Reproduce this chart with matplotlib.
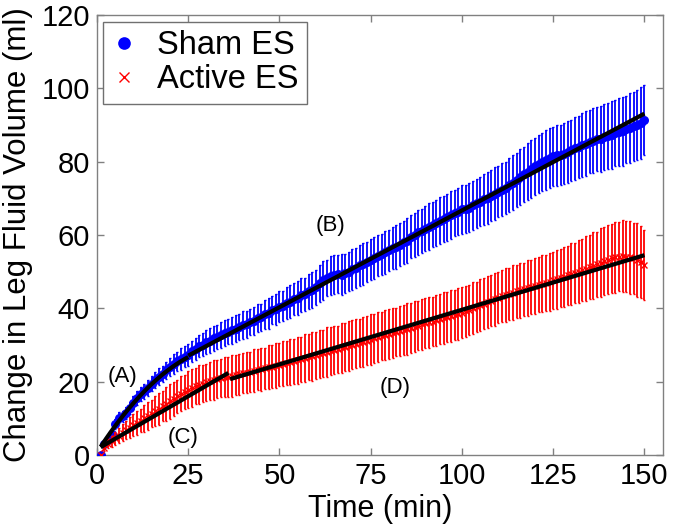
import numpy as np
import matplotlib
matplotlib.use('Agg')
import matplotlib.pyplot as plt

plt.rcParams['font.family'] = ['Liberation Sans', 'DejaVu Sans']

# =============================================================================
# Dados (leitura do grafico, 1 ponto por minuto)
# =============================================================================
minutes = np.arange(1, 151)

sham_mean = [0.0, 3.0, 4.2, 5.6, 8.5, 10.2, 10.6, 11.5, 12.8, 14.3,
             15.6, 16.6, 17.4, 18.3, 19.5, 20.4, 21.3, 22.2, 23.1, 24.0,
             24.8, 25.6, 26.2, 26.8, 27.2, 28.3, 28.9, 29.6, 30.1, 30.8,
             31.2, 31.8, 32.2, 32.8, 33.2, 33.6, 34.0, 34.4, 35.0, 35.4,
             35.7, 36.3, 36.6, 37.4, 37.6, 38.4, 38.6, 39.5, 39.7, 40.5,
             40.7, 41.5, 41.8, 42.6, 42.9, 43.6, 43.9, 44.6, 45.1, 45.7,
             46.8, 47.6, 48.3, 48.9, 49.2, 49.4, 49.2, 49.6, 50.0, 50.6,
             51.0, 51.7, 52.0, 52.6, 53.2, 53.7, 54.3, 54.7, 55.3, 55.8,
             56.4, 56.8, 57.4, 58.0, 58.5, 59.5, 60.0, 60.7, 61.2, 61.7,
             62.3, 62.8, 63.3, 63.9, 64.4, 64.8, 65.4, 65.9, 66.4, 67.0,
             67.1, 67.5, 68.1, 68.6, 69.1, 69.7, 70.2, 70.7, 71.3, 71.8,
             72.4, 72.9, 73.6, 74.3, 75.1, 75.8, 76.6, 77.3, 78.0, 78.7,
             79.4, 79.9, 80.5, 81.1, 81.5, 81.8, 81.8, 82.2, 82.6, 83.1,
             83.6, 84.0, 84.5, 84.9, 85.4, 85.7, 86.1, 86.3, 86.7, 87.0,
             87.3, 87.7, 88.0, 88.3, 88.8, 89.2, 89.6, 90.0, 90.6, 91.4]

sham_err = [0.0, 0.8, 1.0, 1.1, 1.3, 1.4, 1.5, 1.6, 1.7, 1.8,
            1.9, 1.9, 2.0, 2.1, 2.0, 2.2, 2.3, 2.2, 2.4, 2.5,
            2.7, 2.6, 2.9, 2.8, 3.0, 2.9, 3.1, 3.0, 3.2, 3.3,
            3.5, 3.4, 3.3, 3.5, 3.6, 3.4, 3.6, 3.7, 3.5, 3.8,
            3.7, 3.6, 3.8, 3.9, 3.7, 4.0, 4.1, 3.9, 4.2, 4.3,
            4.1, 4.4, 4.5, 4.3, 4.6, 4.7, 4.5, 4.8, 4.9, 4.7,
            5.0, 5.2, 5.0, 5.3, 5.4, 5.2, 5.5, 5.3, 5.4, 5.6,
            5.4, 5.5, 5.7, 5.5, 5.6, 5.8, 5.6, 5.7, 5.9, 5.7,
            5.8, 6.0, 5.8, 5.9, 6.1, 5.9, 6.0, 6.2, 6.0, 6.1,
            6.3, 6.1, 6.2, 6.4, 6.2, 6.3, 6.5, 6.3, 6.4, 6.6,
            6.5, 6.7, 6.6, 6.8, 6.7, 6.9, 7.1, 6.9, 7.2, 7.0,
            7.3, 7.1, 7.4, 7.6, 7.4, 7.7, 7.5, 7.8, 7.9, 7.7,
            8.0, 7.8, 8.1, 8.2, 8.0, 8.3, 8.1, 8.4, 8.5, 8.3,
            8.6, 8.4, 8.7, 8.8, 8.6, 8.9, 8.7, 9.0, 9.1, 8.9,
            9.2, 9.0, 9.3, 9.4, 9.2, 9.5, 9.3, 9.6, 9.8, 9.5]

active_mean = [0.0, 1.8, 3.1, 3.8, 4.6, 5.3, 6.1, 6.8, 7.5, 8.1,
               8.8, 9.4, 10.0, 10.7, 11.3, 12.0, 12.6, 13.3, 13.9, 14.6,
               15.3, 16.0, 16.7, 17.2, 17.8, 18.3, 18.7, 19.2, 19.5, 19.8,
               20.1, 20.4, 20.7, 21.0, 21.2, 21.3, 21.5, 21.8, 22.0, 22.3,
               22.5, 22.7, 23.0, 23.2, 23.4, 23.6, 23.9, 24.1, 24.4, 24.6,
               24.9, 25.1, 25.4, 25.6, 25.9, 26.1, 26.4, 26.7, 26.9, 27.2,
               27.5, 27.8, 28.1, 28.3, 28.6, 28.9, 29.2, 29.5, 29.8, 30.1,
               30.4, 30.6, 30.9, 31.2, 31.5, 31.8, 32.1, 32.4, 32.7, 33.0,
               33.3, 33.5, 33.8, 34.1, 34.4, 34.7, 35.0, 35.3, 35.6, 35.9,
               36.2, 36.4, 36.7, 37.0, 37.3, 37.6, 37.9, 38.2, 38.5, 38.8,
               39.2, 39.6, 40.0, 40.4, 40.9, 41.3, 41.7, 42.1, 42.5, 42.9,
               43.3, 43.6, 44.0, 44.3, 44.6, 44.9, 45.2, 45.5, 45.8, 46.1,
               46.4, 46.7, 47.0, 47.3, 47.6, 47.9, 48.3, 48.6, 49.0, 49.3,
               49.7, 50.0, 50.4, 50.8, 51.2, 51.6, 52.0, 52.5, 52.9, 53.3,
               53.6, 53.9, 54.1, 54.2, 54.1, 53.9, 53.6, 53.2, 52.6, 51.8]

active_err = [0.0, 0.8, 1.2, 1.5, 1.8, 2.0, 2.3, 2.5, 2.8, 3.0,
              3.3, 3.1, 3.6, 3.8, 3.6, 4.1, 4.3, 4.1, 4.6, 4.8,
              4.6, 4.5, 4.8, 4.6, 5.0, 5.2, 4.9, 5.3, 5.1, 5.0,
              5.2, 5.4, 5.1, 5.3, 5.5, 5.5, 5.7, 5.4, 5.6, 5.5,
              5.7, 5.5, 5.8, 5.6, 5.9, 5.7, 6.0, 5.8, 6.1, 5.9,
              6.2, 6.0, 6.3, 6.1, 6.4, 6.2, 6.5, 6.3, 6.6, 6.4,
              6.6, 6.4, 6.7, 6.5, 6.6, 6.4, 6.7, 6.5, 6.8, 6.6,
              6.7, 6.5, 6.8, 6.6, 6.9, 6.7, 6.8, 6.6, 6.9, 6.7,
              6.8, 6.6, 6.9, 6.7, 7.0, 6.8, 6.9, 6.7, 7.0, 6.8,
              6.9, 6.7, 7.0, 6.8, 7.1, 6.9, 7.0, 6.8, 7.1, 6.9,
              7.0, 6.8, 7.1, 6.9, 7.2, 7.0, 7.1, 6.9, 7.2, 7.0,
              7.1, 7.3, 7.1, 7.4, 7.2, 7.5, 7.3, 7.6, 7.4, 7.7,
              7.5, 7.8, 7.6, 7.9, 7.7, 8.0, 7.8, 8.2, 8.0, 8.4,
              8.2, 8.6, 8.4, 8.8, 8.7, 9.1, 8.9, 9.3, 9.2, 9.5,
              9.4, 9.6, 9.5, 9.8, 9.6, 9.9, 9.7, 10.0, 9.8, 9.5]

# Ajustes por trechos: (inicio, fim, coeficientes do polinomio)
fit_segments = [
    (1.0, 25.0, [-0.02028, 1.5467, 0.72]),   # (A) Sham
    (25.0, 150.0, [0.528, 13.9]),           # (B) Sham
    (1.0, 36.0, [0.579, 1.55]),             # (C) Active
    (36.5, 150.0, [0.2978, 9.83]),          # (D) Active
]

seg_labels = ['(A)', '(B)', '(C)', '(D)']
seg_label_x = [7.1, 63.9, 23.6, 81.7]
seg_label_y = [21.3, 62.7, 4.9, 18.5]

# =============================================================================
# Grafico
# =============================================================================
fig = plt.figure(figsize=(6.75, 5.3), dpi=100)
ax = fig.add_axes([0.1437, 0.1415, 0.8381, 0.8302])

ax.errorbar(minutes, sham_mean, yerr=sham_err, fmt='none', ecolor='blue',
            elinewidth=1.3, capsize=1, capthick=1, zorder=2)
ax.plot(minutes, sham_mean, 'o', color='blue', markersize=6.5,
        markeredgewidth=0, label='Sham ES', zorder=3)

ax.errorbar(minutes, active_mean, yerr=active_err, fmt='none', ecolor='red',
            elinewidth=1.3, capsize=1, capthick=1, zorder=4)
ax.plot(minutes, active_mean, 'x', color='red', markersize=5,
        markeredgewidth=1, label='Active ES', zorder=5)

for t0, t1, coef in fit_segments:
    tt = np.linspace(t0, t1, 100)
    ax.plot(tt, np.polyval(coef, tt), color='black', linewidth=3,
            solid_capstyle='butt', zorder=6)

for txt, tx, ty in zip(seg_labels, seg_label_x, seg_label_y):
    ax.text(tx, ty, txt, fontsize=16, ha='center', va='center', zorder=7)

ax.set_xlim(0, 155)
ax.set_ylim(0, 120)
ax.set_xticks([0, 25, 50, 75, 100, 125, 150])
ax.set_yticks([0, 20, 40, 60, 80, 100, 120])

for sp in ax.spines.values():
    sp.set_color('#808080')
    sp.set_linewidth(1)
ax.tick_params(direction='in', top=True, right=True, length=5, width=1,
               color='#808080', labelsize=21, pad=5)

ax.set_xlabel('Time (min)', fontsize=22, labelpad=3)
ax.set_ylabel('Change in Leg Fluid Volume (ml)', fontsize=22.5, labelpad=6)

leg = ax.legend(loc='upper left', bbox_to_anchor=(0.0106, 0.984),
                borderaxespad=0, fontsize=23.5, fancybox=False,
                edgecolor='#707070', framealpha=1, handlelength=0.8,
                handletextpad=0.6, borderpad=0.25, labelspacing=0.1,
                markerscale=1.4)
leg.get_frame().set_linewidth(1)

fig.savefig('out.png', dpi=100)
